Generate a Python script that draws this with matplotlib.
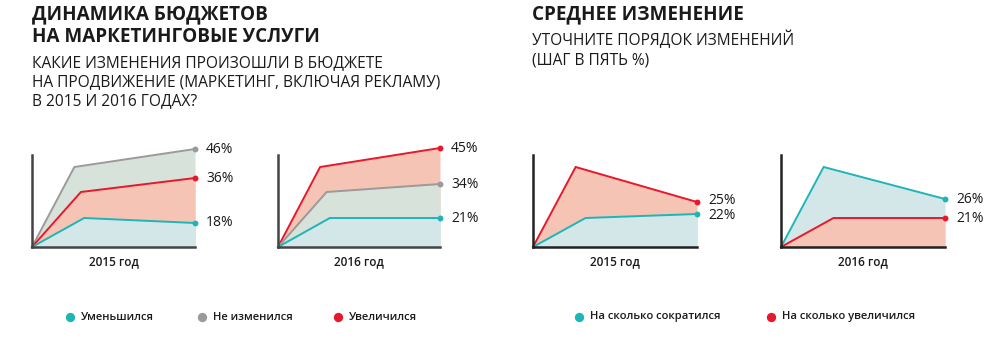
import matplotlib
matplotlib.use("Agg")
import matplotlib.pyplot as plt

plt.rcParams['font.family'] = ['Open Sans', 'DejaVu Sans']

# ---- data (heights in chart units; labels are the reported shares) ----
panel_years = ["2015 год", "2016 год", "2015 год", "2016 год"]

# left block: Уменьшился / Не изменился / Увеличился
dec_2015 = [0, 29, 24]
same_2015 = [0, 80, 98]
inc_2015 = [0, 55, 69]
dec_2016 = [0, 29, 29]
same_2016 = [0, 55, 63]
inc_2016 = [0, 80, 99]
labels_2015 = {"dec": "18%", "same": "46%", "inc": "36%"}
labels_2016 = {"dec": "21%", "same": "34%", "inc": "45%"}

# right block: На сколько сократился / На сколько увеличился
cut_2015 = [0, 29, 33]
grow_2015 = [0, 80, 45]
cut_2016 = [0, 80, 48]
grow_2016 = [0, 29, 29]
avg_labels_2015 = {"cut": "22%", "grow": "25%"}
avg_labels_2016 = {"cut": "26%", "grow": "21%"}

x_top = [0, 0.26, 1]
x_mid = [0, 0.30, 1]
x_low = [0, 0.32, 1]

TEAL = "#1fb5b8"
GRAY = "#9a9a9a"
RED = "#e8182b"
TEAL_F = "#d3e7e9"
GRAY_F = "#d6e2da"
RED_F = "#f5c4b4"
TXT = "#1a1a1a"

W, H = 1000, 349
fig = plt.figure(figsize=(W / 100, H / 100), dpi=100)

def px_axes(x0, x1, ybot, ytop):
    return fig.add_axes([x0 / W, 1 - ybot / H, (x1 - x0) / W, (ybot - ytop) / H])

def draw_panel(ax, series, year, axis_color):
    # series: (x, y, line colour, fill colour, label, label offset) drawn back-to-front
    for xs, ys, lc, fc, lab, dy in series:
        ax.fill_between(xs, 0, ys, color=fc, lw=0, zorder=1, clip_on=False)
    for xs, ys, lc, fc, lab, dy in series:
        ax.plot(xs, ys, color=lc, lw=1.4, zorder=3, solid_joinstyle='miter', clip_on=False)
        ax.scatter([xs[-1]], [ys[-1]], s=18, color=lc, zorder=4, clip_on=False, lw=0)
        ax.annotate(lab, (xs[-1], ys[-1]), xytext=(8, dy), textcoords='offset points',
                    va='center', ha='left', fontsize=10, color=TXT, annotation_clip=False)
    ax.set_xlim(0, 1)
    ax.set_ylim(0, 100)
    for s in ['top', 'right']:
        ax.spines[s].set_visible(False)
    ax.spines['left'].set_bounds(0, 92)
    ax.spines['left'].set_color(axis_color)
    ax.spines['bottom'].set_color(axis_color)
    ax.spines['left'].set_linewidth(1.8)
    ax.spines['bottom'].set_linewidth(1.8)
    ax.spines['left'].set_zorder(5)
    ax.spines['bottom'].set_zorder(5)
    ax.set_xticks([])
    ax.set_yticks([])
    ax.patch.set_alpha(0)
    ax.set_xlabel(year, fontsize=8.5, color=TXT, labelpad=6, fontweight='semibold')

ax1 = px_axes(32, 195, 247, 147)
draw_panel(ax1, [
    (x_top, same_2015, GRAY, GRAY_F, labels_2015["same"], 0),
    (x_mid, inc_2015, RED, RED_F, labels_2015["inc"], 0),
    (x_low, dec_2015, TEAL, TEAL_F, labels_2015["dec"], 0),
], panel_years[0], "#444444")

ax2 = px_axes(278, 440, 247, 147)
draw_panel(ax2, [
    (x_top, inc_2016, RED, RED_F, labels_2016["inc"], 0),
    (x_mid, same_2016, GRAY, GRAY_F, labels_2016["same"], 0),
    (x_low, dec_2016, TEAL, TEAL_F, labels_2016["dec"], 0),
], panel_years[1], "#444444")

ax3 = px_axes(533, 697, 247, 147)
draw_panel(ax3, [
    (x_top, grow_2015, RED, RED_F, avg_labels_2015["grow"], 1.2),
    (x_low, cut_2015, TEAL, TEAL_F, avg_labels_2015["cut"], -1.2),
], panel_years[2], "#222222")

ax4 = px_axes(781, 945, 247, 147)
draw_panel(ax4, [
    (x_top, cut_2016, TEAL, TEAL_F, avg_labels_2016["cut"], 0),
    (x_low, grow_2016, RED, RED_F, avg_labels_2016["grow"], 0),
], panel_years[3], "#222222")

# ---- overlay for titles and legends (pixel coordinates) ----
ov = fig.add_axes([0, 0, 1, 1])
ov.set_xlim(0, W)
ov.set_ylim(H, 0)
ov.axis('off')
ov.patch.set_alpha(0)

ov.text(32, 4, "ДИНАМИКА БЮДЖЕТОВ\nНА МАРКЕТИНГОВЫЕ УСЛУГИ", fontsize=13.6, fontweight='bold',
        va='top', ha='left', color=TXT, linespacing=1.2)
ov.text(32, 55, "КАКИЕ ИЗМЕНЕНИЯ ПРОИЗОШЛИ В БЮДЖЕТЕ\nНА ПРОДВИЖЕНИЕ (МАРКЕТИНГ, ВКЛЮЧАЯ РЕКЛАМУ)\nВ 2015 И 2016 ГОДАХ?",
        fontsize=11.2, va='top', ha='left', color=TXT, linespacing=1.24)
ov.text(532, 4, "СРЕДНЕЕ ИЗМЕНЕНИЕ", fontsize=13.6, fontweight='bold',
        va='top', ha='left', color=TXT)
ov.text(532, 31, "УТОЧНИТЕ ПОРЯДОК ИЗМЕНЕНИЙ\n(ШАГ В ПЯТЬ %)", fontsize=11.2,
        va='top', ha='left', color=TXT, linespacing=1.28)

legend_left = [("Уменьшился", TEAL, 70), ("Не изменился", GRAY, 202), ("Увеличился", RED, 338)]
legend_right = [("На сколько сократился", TEAL, 579), ("На сколько увеличился", RED, 771)]
for name, col, x in legend_left + legend_right:
    ov.scatter([x], [317], s=45, color=col, lw=0)
    ov.text(x + 11, 317, name, fontsize=8.1, va='center', ha='left', color=TXT,
            fontweight='semibold')

fig.savefig("out.png", dpi=100)
